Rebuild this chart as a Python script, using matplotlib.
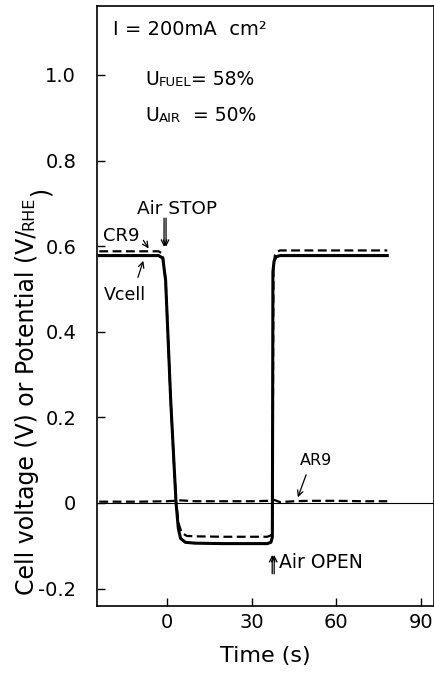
import numpy as np
import matplotlib.pyplot as plt

# time axis (s) and traces
t_vcell = [-24, -3, -1.5, -0.5, 1.3, 3.2, 4.0, 4.8, 6.5, 10, 20, 30, 35.5, 36.8, 37.3, 37.4, 37.5, 37.9, 38.6, 40, 50, 60, 70, 78]
v_vcell = [0.578, 0.578, 0.572, 0.52, 0.24, 0.0, -0.06, -0.083, -0.092, -0.094, -0.095, -0.095, -0.095, -0.092, -0.08, 0.2, 0.54, 0.565, 0.575, 0.578, 0.578, 0.578, 0.578, 0.578]

t_cr9 = [-24, -3, -1.6, -0.5, 1.3, 3.2, 4.2, 5.2, 7, 10, 20, 30, 35.5, 36.8, 37.3, 37.5, 37.7, 38.2, 39, 40, 50, 60, 70, 78]
v_cr9 = [0.588, 0.588, 0.582, 0.52, 0.24, 0.0, -0.05, -0.07, -0.077, -0.078, -0.079, -0.079, -0.079, -0.076, -0.065, 0.2, 0.55, 0.578, 0.587, 0.59, 0.59, 0.59, 0.59, 0.59]

t_ar9 = [-24, -10, 0, 5, 10, 20, 30, 36, 38, 40, 45, 50, 60, 70, 78]
v_ar9 = [0.003, 0.003, 0.004, 0.006, 0.004, 0.004, 0.004, 0.005, 0.007, 0.002, 0.004, 0.005, 0.005, 0.004, 0.004]

xticks = [0, 30, 60, 90]
yticks = [-0.2, 0, 0.2, 0.4, 0.6, 0.8, 1.0]
ytick_labels = ["-0.2", "0", "0.2", "0.4", "0.6", "0.8", "1.0"]

plt.rcParams['font.family'] = ['DejaVu Sans']
fig = plt.figure(figsize=(4.35, 6.73), dpi=100)
ax = fig.add_axes([0.223, 0.0996, 0.775, 0.8914])

ax.axhline(0, color='black', lw=0.8)
ax.plot(t_vcell, v_vcell, color='black', lw=2.2, solid_joinstyle='round')
ax.plot(t_cr9, v_cr9, color='black', lw=1.6, dashes=(4, 2))
ax.plot(t_ar9, v_ar9, color='black', lw=1.6, dashes=(4, 2))

ax.set_xlim(-24.8, 94.6)
ax.set_ylim(-0.2407, 1.161)
ax.set_xticks(xticks)
ax.set_yticks(yticks)
ax.set_yticklabels(ytick_labels)
ax.tick_params(direction='in', length=6, width=1, labelsize=14)
ax.tick_params(axis='y', pad=15)
ax.tick_params(axis='x', pad=5)
for s in ax.spines.values():
    s.set_linewidth(1.2)

ax.set_xlabel("Time (s)", fontsize=16, labelpad=10)

# y label with small-caps RHE
yl = fig.text(0.062, 1 - 595 / 673, "Cell voltage (V) or Potential (V/", rotation=90,
              ha='center', va='bottom', fontsize=17)
yl2 = ax.annotate("RHE", xy=(1, 1), xycoords=yl, xytext=(-2, 0), textcoords='offset points',
                  rotation=90, ha='right', va='bottom', fontsize=11.5)
ax.annotate(")", xy=(0.5, 1), xycoords=yl2, xytext=(-0.3, 0), textcoords='offset points',
            rotation=90, ha='left', va='bottom', fontsize=17, annotation_clip=False)

# condition labels
ax.text(-19.1, 1.107, "I = 200mA  cm\u00b2", fontsize=14, va='center')
u1 = ax.text(-7.8, 0.977, "U", fontsize=13.5, va='baseline')
u1b = ax.annotate("FUEL", xy=(1, 0), xycoords=u1, fontsize=9.5, va='bottom')
ax.annotate("= 58%", xy=(1, 0), xycoords=u1b, fontsize=13.5, va='bottom')
u2 = ax.text(-7.8, 0.893, "U", fontsize=13.5, va='baseline')
u2b = ax.annotate("AIR", xy=(1, 0), xycoords=u2, fontsize=9.5, va='bottom')
ax.annotate("  = 50%", xy=(1, 0), xycoords=u2b, fontsize=13.5, va='bottom')

# curve labels
ax.text(-22.7, 0.624, "CR9", fontsize=13, va='center')
ax.annotate("", xy=(-6, 0.589), xytext=(-8.9, 0.619),
            arrowprops=dict(arrowstyle='->', lw=0.9, color='black'))
ax.text(-22.3, 0.486, "Vcell", fontsize=12.5, va='center')
ax.annotate("", xy=(-8.1, 0.572), xytext=(-10.6, 0.521),
            arrowprops=dict(arrowstyle='->', lw=0.9, color='black'))
ax.text(47.1, 0.10, "AR9", fontsize=11.5, va='center')
ax.annotate("", xy=(46, 0.007), xytext=(49.6, 0.072),
            arrowprops=dict(arrowstyle='->', lw=0.9, color='black'))

# Air STOP / Air OPEN with double arrows
ax.text(-10.6, 0.687, "Air STOP", fontsize=13.3, va='center')
for dx in (-0.35, 0.35):
    ax.annotate("", xy=(-0.7 + dx, 0.592), xytext=(-0.7 + dx, 0.672),
                arrowprops=dict(arrowstyle='->', lw=0.9, color='black'))
ax.text(39.5, -0.14, "Air OPEN", fontsize=13.5, va='center')
for dx in (-0.35, 0.35):
    ax.annotate("", xy=(37.6 + dx, -0.115), xytext=(37.6 + dx, -0.172),
                arrowprops=dict(arrowstyle='->', lw=0.9, color='black'))

fig.savefig("out.png", dpi=100)
